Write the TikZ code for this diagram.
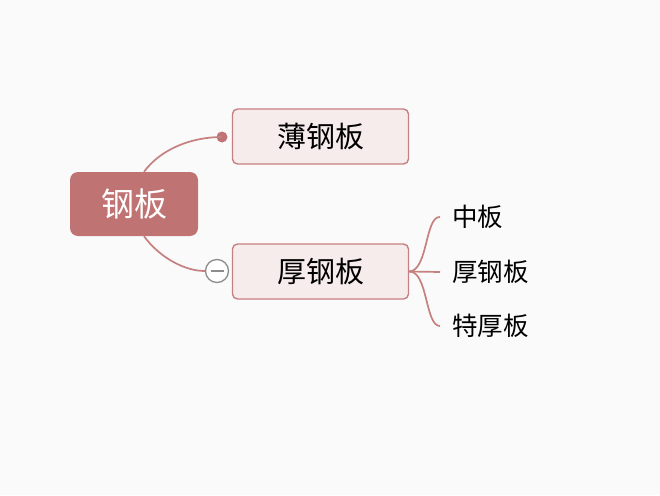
\documentclass[tikz,border=0pt]{standalone}
\usepackage{fontspec}
\setmainfont{Noto Sans CJK SC}
\usetikzlibrary{calc}
\definecolor{bgc}{RGB}{250,250,250}
\definecolor{rootred}{RGB}{192,115,115}
\definecolor{edgered}{RGB}{198,128,128}
\definecolor{topicfill}{RGB}{247,236,236}
\definecolor{foldgray}{RGB}{140,140,140}

\begin{document}
\begin{tikzpicture}[x=1pt,y=1pt]
\tikzset{
  rootbox/.style={fill=rootred,rounded corners=8pt,minimum width=128pt,minimum height=64pt,text=white,font=\fontsize{33}{36}\selectfont,inner sep=0pt},
  topicbox/.style={draw=edgered,line width=1.4pt,fill=topicfill,rounded corners=5pt,minimum width=176pt,minimum height=55pt,font=\fontsize{29}{32}\selectfont,inner sep=0pt},
  leaf/.style={anchor=west,inner sep=0pt,font=\fontsize{25.5}{28}\selectfont},
  link/.style={draw=edgered,line width=1.7pt},
}
\fill[bgc] (0,0) rectangle (660,-495);
\useasboundingbox (0,0) rectangle (660,-495);

\node[rootbox] (steel) at (134,-204) {钢板};
\node[topicbox] (thin) at (320.5,-136.5) {薄钢板};
\node[topicbox] (thick) at (320.5,-271.5) {厚钢板};

\node[leaf] (mid) at (452,-217) {中板};
\node[leaf] (thk) at (452,-272) {厚钢板};
\node[leaf] (xthk) at (452,-326) {特厚板};

\node[circle,fill=rootred,inner sep=0pt,minimum size=11pt] (dot) at (222,-137) {};
\node[circle,draw=foldgray,fill=white,line width=1.3pt,inner sep=0pt,minimum size=23pt] (fold) at (217,-271) {};
\draw[foldgray,line width=1.3pt] ([xshift=-6.5pt]fold.center) -- ([xshift=6.5pt]fold.center);

\draw[link] ([xshift=10pt]steel.north) .. controls (160,-150) and (190,-137) .. (dot.center);
\draw[link] ([xshift=10pt]steel.south) .. controls (160,-258) and (185,-271) .. (fold.west);

\draw[link] (thick.east) .. controls (428,-271) and (425,-216) .. ([xshift=-12pt]mid.west);
\draw[link] (thick.east) -- ([xshift=-12pt]thk.west);
\draw[link] (thick.east) .. controls (428,-271) and (425,-326) .. ([xshift=-12pt]xthk.west);
\end{tikzpicture}
\end{document}
